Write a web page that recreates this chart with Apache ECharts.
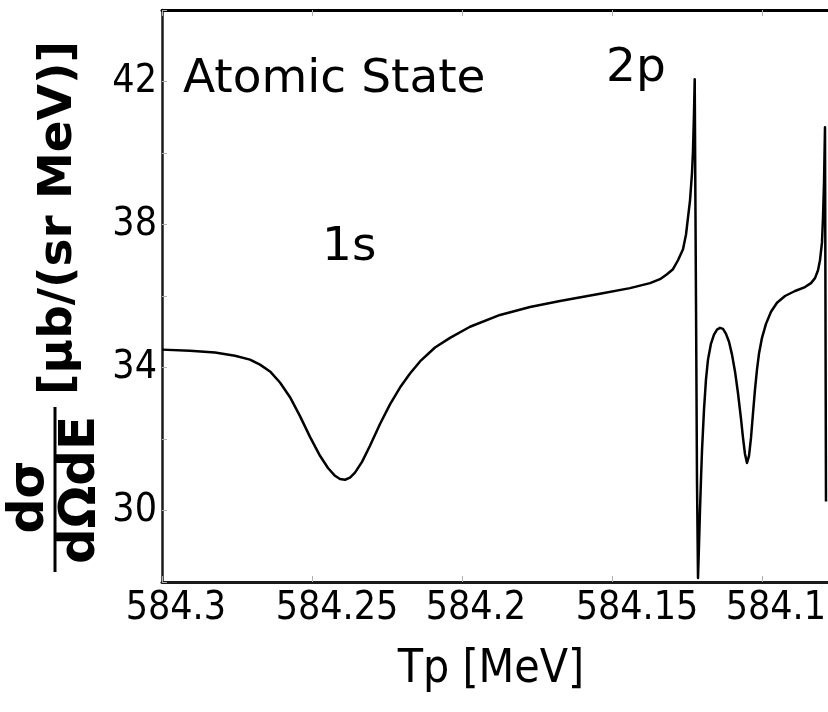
<!DOCTYPE html>
<html>
<head>
<meta charset="utf-8">
<script src="https://cdn.jsdelivr.net/npm/echarts@6/dist/echarts.min.js"></script>
<style>
  html, body { margin: 0; padding: 0; background: #ffffff; }
  #chart { width: 828px; height: 712px; }
</style>
</head>
<body>
<div id="chart"></div>
<script>
// Proton kinetic energy Tp [MeV] (axis runs from high to low)
const tpValues = [
  584.3000, 584.29067, 584.28233, 584.27567, 584.27067, 584.26733, 584.2640, 584.26067,
  584.25733, 584.2540, 584.25067, 584.24733, 584.24467, 584.24233, 584.24067, 584.2390,
  584.23733, 584.23567, 584.23333, 584.23067, 584.22733, 584.2240, 584.22067, 584.21733,
  584.2140, 584.2090, 584.2040, 584.19733, 584.18733, 584.17733, 584.16733, 584.1540,
  584.1440, 584.13733, 584.1340, 584.13167, 584.12967, 584.1280, 584.12633, 584.12533,
  584.12467, 584.1240, 584.12333, 584.1230, 584.12267, 584.12243, 584.1220, 584.12167,
  584.12133, 584.1210, 584.12067, 584.12033, 584.1200, 584.11933, 584.11867, 584.1180,
  584.1170, 584.1160, 584.1150, 584.1140, 584.1130, 584.1120, 584.1110, 584.1100,
  584.1090, 584.1080, 584.1070, 584.10633, 584.10567, 584.1050, 584.10433, 584.10367,
  584.1030, 584.10233, 584.10167, 584.1010, 584.1000, 584.09867, 584.0970, 584.0950,
  584.09233, 584.0890, 584.08567, 584.08367, 584.08233, 584.08133, 584.08067, 584.0800,
  584.07967, 584.07933, 584.0790, 584.07867
];
// Cross section dσ/dΩdE [μb/(sr MeV)]
const crossSection = [
  34.50, 34.47, 34.42, 34.33, 34.22, 34.08, 33.89, 33.58,
  33.17, 32.64, 32.06, 31.53, 31.19, 30.97, 30.88, 30.86,
  30.92, 31.06, 31.36, 31.81, 32.42, 32.97, 33.44, 33.83,
  34.17, 34.56, 34.83, 35.14, 35.47, 35.69, 35.86, 36.06,
  36.22, 36.36, 36.47, 36.61, 36.75, 37.00, 37.31, 37.72,
  38.19, 38.67, 39.44, 40.06, 41.11, 42.06, 35.83, 30.83,
  28.11, 29.03, 30.00, 30.89, 31.67, 32.83, 33.67, 34.22,
  34.67, 34.92, 35.06, 35.11, 35.08, 34.94, 34.72, 34.36,
  33.89, 33.28, 32.56, 32.03, 31.58, 31.33, 31.53, 32.03,
  32.72, 33.39, 33.94, 34.39, 34.83, 35.22, 35.56, 35.81,
  36.00, 36.14, 36.25, 36.36, 36.50, 36.72, 37.00, 37.50,
  38.19, 39.17, 40.72, 30.25
];
const xTicks = [584.3, 584.25, 584.2, 584.15, 584.1];
const yTickLabels = [30, 34, 38, 42];

const stateLabel = 'Atomic State';
const peakLabels = ['1s', '2p'];

const chart = echarts.init(document.getElementById('chart'), null, { renderer: 'canvas' });

const tickFont = '"DejaVu Sans Condensed", "Liberation Sans Narrow", sans-serif';
const textFont = '"DejaVu Sans", Verdana, sans-serif';

// Tick labels are left-anchored a little before their tick: pad to a common
// width with figure spaces so centring keeps the same starting point.
const fmtTick = v => {
  if (!xTicks.some(t => Math.abs(t - v) < 1e-6)) return '';
  let s = String(+v.toFixed(2));
  while (s.length < 6) s += '\u2007';
  return s;
};

const xAxisBase = {
  type: 'value',
  inverse: true,
  min: 584.05,
  max: 584.3,
  interval: 0.05,
  splitLine: { show: false },
  axisTick: { show: true, inside: true, length: 6, lineStyle: { color: '#b0b0b0', width: 1 } }
};

chart.setOption({
  backgroundColor: '#ffffff',
  animation: false,
  // the plot area runs on past the right edge of the page
  grid: { left: 162, top: 10, width: 750, height: 572, containLabel: false, outerBoundsMode: 'none' },
  xAxis: [
    Object.assign({}, xAxisBase, {
      position: 'bottom',
      axisLine: { show: true, onZero: false, lineStyle: { color: '#1a1a1a', width: 3 } },
      axisLabel: {
        show: true,
        margin: 7,
        padding: [0, 0, 0, 50],
        color: '#000',
        fontFamily: tickFont,
        fontSize: 39,
        formatter: fmtTick
      }
    }),
    Object.assign({}, xAxisBase, {
      position: 'top',
      axisLine: { show: true, onZero: false, lineStyle: { color: '#000', width: 3 } },
      axisLabel: { show: false }
    })
  ],
  yAxis: {
    type: 'value',
    min: 28,
    max: 44,
    interval: 2,
    splitLine: { show: false },
    axisLine: { show: true, onZero: false, lineStyle: { color: '#1a1a1a', width: 2.5 } },
    axisTick: { show: true, inside: true, length: 5, lineStyle: { color: '#b0b0b0', width: 1 } },
    axisLabel: {
      margin: 5,
      color: '#000',
      fontFamily: tickFont,
      fontSize: 39,
      formatter: v => yTickLabels.includes(v) ? String(v) : ''
    }
  },
  series: [{
    type: 'line',
    xAxisIndex: 0,
    data: tpValues.map((x, i) => [x, crossSection[i]]),
    showSymbol: false,
    smooth: false,
    clip: true,
    lineStyle: { color: '#000', width: 2.5, join: 'round' }
  }],
  graphic: [
    { type: 'text', left: 183, top: 56, style: { text: stateLabel, font: '47px ' + textFont, fill: '#000' } },
    { type: 'text', left: 322, top: 224, style: { text: peakLabels[0], font: '47px ' + textFont, fill: '#000' } },
    { type: 'text', left: 606, top: 45, style: { text: peakLabels[1], font: '47px ' + textFont, fill: '#000' } },
    // x-axis title
    { type: 'text', x: 491, y: 670, style: { text: 'Tp [MeV]', font: '46px ' + tickFont, fill: '#000', align: 'center', verticalAlign: 'middle' } },
    // y-axis title: dσ / dΩdE [μb/(sr MeV)], rotated to read upwards
    { type: 'text', x: 59, y: 218, rotation: Math.PI / 2, style: { text: '[μb/(sr MeV)]', font: 'bold 47px ' + textFont, fill: '#000', align: 'center', verticalAlign: 'middle' } },
    { type: 'text', x: 30, y: 497, rotation: Math.PI / 2, style: { text: 'dσ', font: 'bold 49px ' + textFont, fill: '#000', align: 'center', verticalAlign: 'middle' } },
    { type: 'line', shape: { x1: 55, y1: 407, x2: 55, y2: 572 }, style: { stroke: '#000', lineWidth: 3 } },
    { type: 'text', x: 81, y: 490, rotation: Math.PI / 2, style: { text: 'dΩdE', font: 'bold 50px ' + textFont, fill: '#000', align: 'center', verticalAlign: 'middle' } }
  ]
});
</script>
</body>
</html>
